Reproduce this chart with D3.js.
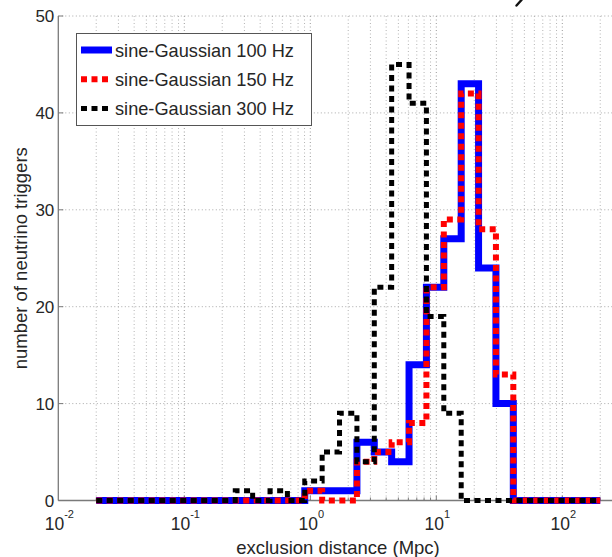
<!DOCTYPE html>
<html>
<head>
<meta charset="utf-8">
<script src="https://cdn.jsdelivr.net/npm/d3@7"></script>
<style>
  html, body { margin: 0; padding: 0; background: #fff; }
  svg { display: block; font-family: "Liberation Sans", Arial, Helvetica, sans-serif; }
</style>
</head>
<body>
<svg id="chart" width="612" height="557"></svg>
<script>
// ---- data ----
const binEdges = [0.02, 0.02748, 0.03775, 0.05186, 0.07124, 0.09787, 0.1345, 0.1847, 0.2538, 0.3486,
  0.4790, 0.6580, 0.9039, 1.2418, 1.706, 2.344, 3.220, 4.423, 6.077, 8.348,
  11.47, 15.76, 21.65, 29.74, 40.85, 56.12, 77.10, 105.9, 145.5, 200];
const seriesNames = ["sine-Gaussian 100 Hz", "sine-Gaussian 150 Hz", "sine-Gaussian 300 Hz"];
const counts100 = [0,0,0,0,0,0,0,0,0,0,0,0,1,1,1,6,5,4,14,22,27,43,24,10,0,0,0,0,0];
const counts150 = [0,0,0,0,0,0,0,0,0,0,0,0,1,0,0,4,5,6,8,22,29,42,28,13,0,0,0,0,0];
const counts300 = [0,0,0,0,0,0,0,0,1,0,1,0,2,5,9,4,22,45,41,19,9,0,0,0,0,0,0,0,0];
const yTicks = [0, 10, 20, 30, 40, 50];
const xTickExponents = [-2, -1, 0, 1, 2];
const xAxisLabel = "exclusion distance (Mpc)";
const yAxisLabel = "number of neutrino triggers";

(function () {
// ---- layout ----
const mLeft = 58.3, mBottom = 500.5, mTop = 16, decade = 126;
const W = 612;
const x = d3.scaleLog().domain([0.01, 1000]).range([mLeft, mLeft + 5 * decade]);
const y = d3.scaleLinear().domain([0, 50]).range([mBottom, mTop]);

const svg = d3.select("#chart");

// grid: vertical dotted lines at minor + major log positions
const gridX = [];
for (let e = -2; e <= 2; e++) for (let m = 1; m <= 9; m++) {
  const v = m * Math.pow(10, e);
  if (v > 0.01 && x(v) < W) gridX.push({v, major: m === 1});
}
svg.append("g").selectAll("line").data(gridX).join("line")
  .attr("x1", d => x(d.v)).attr("x2", d => x(d.v))
  .attr("y1", y(50)).attr("y2", y(0))
  .attr("stroke", d => d.major ? "#9a9a9a" : "#b4b4b4")
  .attr("stroke-width", 1)
  .attr("stroke-dasharray", "1,2.5");

// horizontal dotted grid lines
svg.append("g").selectAll("line").data(yTicks.filter(t => t > 0)).join("line")
  .attr("x1", mLeft).attr("x2", W)
  .attr("y1", d => y(d)).attr("y2", d => y(d))
  .attr("stroke", "#a8a8a8").attr("stroke-width", 1)
  .attr("stroke-dasharray", "1,2.5");

// axes lines
svg.append("line").attr("x1", mLeft).attr("x2", mLeft).attr("y1", y(50)).attr("y2", y(0))
  .attr("stroke", "#7a7a7a").attr("stroke-width", 1.3);
svg.append("line").attr("x1", mLeft).attr("x2", W).attr("y1", y(0)).attr("y2", y(0))
  .attr("stroke", "#7a7a7a").attr("stroke-width", 1.3);

// tick marks
svg.append("g").selectAll("line").data(yTicks).join("line")
  .attr("x1", mLeft).attr("x2", mLeft + 5).attr("y1", d => y(d)).attr("y2", d => y(d))
  .attr("stroke", "#7a7a7a");
svg.append("g").selectAll("line").data(gridX).join("line")
  .attr("x1", d => x(d.v)).attr("x2", d => x(d.v))
  .attr("y1", y(0)).attr("y2", d => y(0) - (d.major ? 5 : 3))
  .attr("stroke", "#7a7a7a");

// y tick labels
svg.append("g").selectAll("text").data(yTicks).join("text")
  .attr("x", mLeft - 4).attr("y", d => y(d) + 6)
  .attr("text-anchor", "end")
  .attr("font-size", 17).attr("fill", "#262626")
  .text(d => d);

// x tick labels 10^n
const xl = svg.append("g").selectAll("text").data(xTickExponents).join("text")
  .attr("x", d => x(Math.pow(10, d)) + 1).attr("y", 530)
  .attr("text-anchor", "middle")
  .attr("font-size", 17.5).attr("fill", "#262626");
xl.append("tspan").text("10");
xl.append("tspan").attr("dy", -12).attr("font-size", 11).text(d => d);

// axis labels
svg.append("text").attr("x", 338).attr("y", 554)
  .attr("text-anchor", "middle").attr("font-size", 18.5).attr("fill", "#262626")
  .text(xAxisLabel);
svg.append("text").attr("transform", `translate(27,${(mTop + mBottom) / 2}) rotate(-90)`)
  .attr("text-anchor", "middle").attr("font-size", 18.5).attr("fill", "#262626")
  .text(yAxisLabel);

// step lines
const stepLine = d3.line().x(d => x(d[0])).y(d => y(d[1])).curve(d3.curveStepAfter);
function pts(counts) {
  const p = counts.map((c, i) => [binEdges[i], c]);
  p.push([binEdges[binEdges.length - 1], counts[counts.length - 1]]);
  return p;
}
const styles = [
  {data: counts100, color: "#0000ff", width: 7, dash: null},
  {data: counts150, color: "#ff0000", width: 6, dash: "6,4.5"},
  {data: counts300, color: "#000000", width: 5, dash: "6,4.5"}
];
styles.forEach(s => {
  svg.append("path").attr("d", stepLine(pts(s.data)))
    .attr("fill", "none").attr("stroke", s.color).attr("stroke-width", s.width)
    .attr("stroke-dasharray", s.dash).attr("stroke-linejoin", "miter");
});

// legend
const lg = svg.append("g");
lg.append("rect").attr("x", 76.5).attr("y", 33.5).attr("width", 235).attr("height", 92)
  .attr("fill", "#fff").attr("stroke", "#555").attr("stroke-width", 1);
const rowY = [50, 79.3, 108.5];
styles.forEach((s, i) => {
  lg.append("line").attr("x1", 81).attr("x2", 112).attr("y1", rowY[i]).attr("y2", rowY[i])
    .attr("stroke", s.color).attr("stroke-width", s.width)
    .attr("stroke-dasharray", s.dash);
  lg.append("text").attr("x", 115).attr("y", rowY[i] + 6.5)
    .attr("font-size", 18.2).attr("fill", "#262626").text(seriesNames[i]);
});

// small stroke left over from a cropped title above the plot
svg.append("line").attr("x1", 521.5).attr("y1", 0).attr("x2", 516.5).attr("y2", 5.5)
  .attr("stroke", "#111").attr("stroke-width", 2.4).attr("stroke-linecap", "round");
})();
</script>
</body>
</html>
